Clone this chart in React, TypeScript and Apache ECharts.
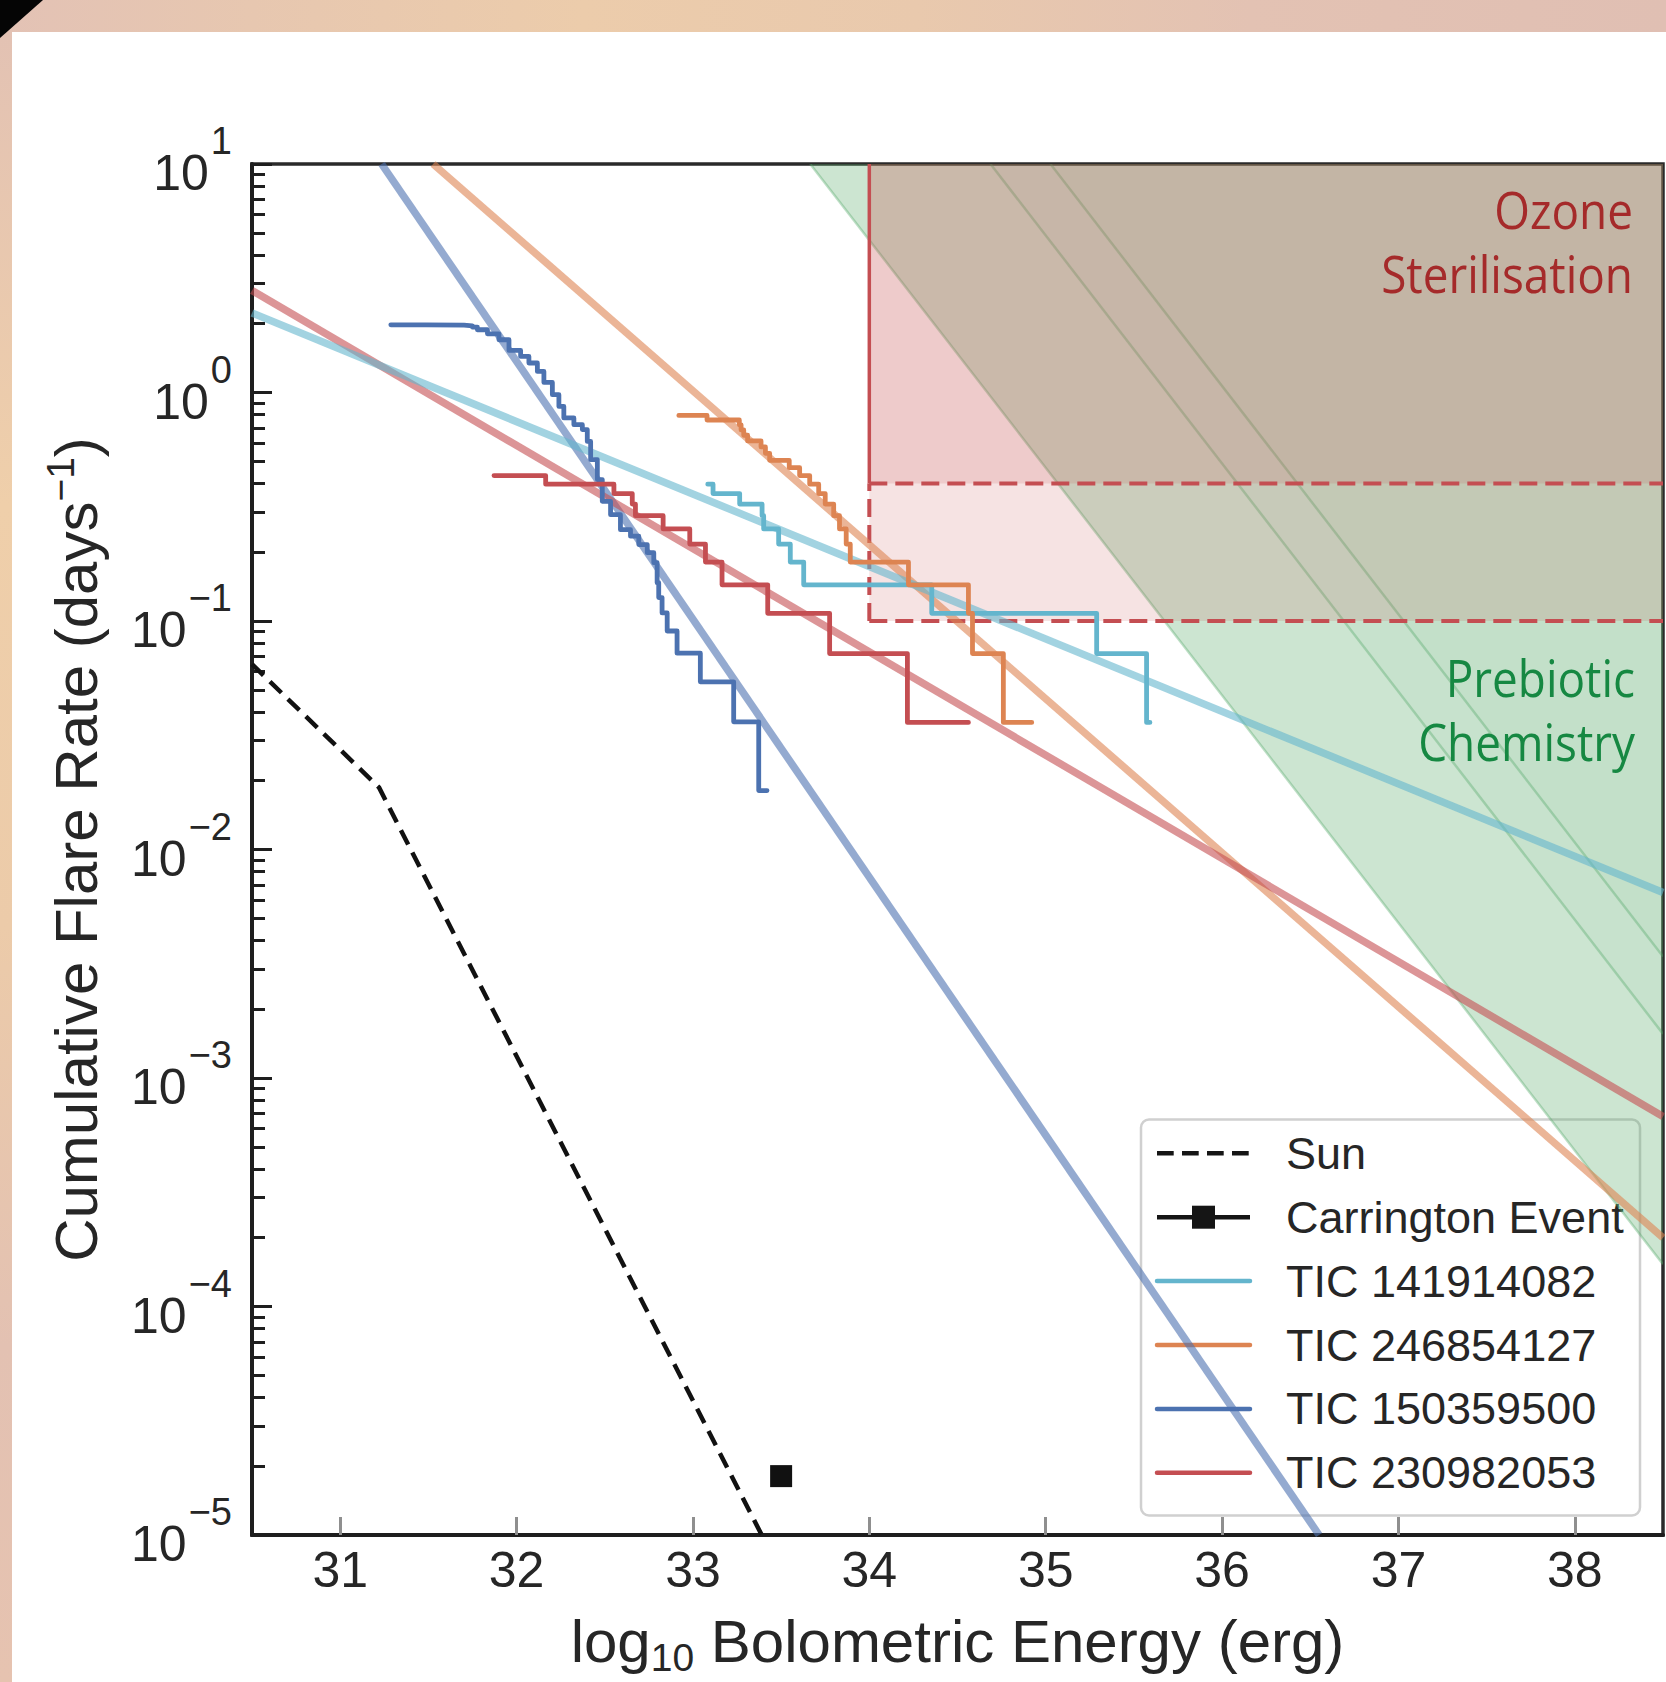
import React, { useEffect, useRef } from 'react';
import * as echarts from 'echarts';

// ---------- axis ticks ----------
const X_TICKS = [31, 32, 33, 34, 35, 36, 37, 38];
const Y_TICKS = [1e-5, 1e-4, 1e-3, 1e-2, 1e-1, 1, 10];
const Y_MINOR_MULT = [2, 3, 4, 5, 6, 7, 8, 9];
const Y_DECADES = [-5, -4, -3, -2, -1, 0];

// ---------- Sun & Carrington ----------
const SUN_E = [30.5, 31.22, 33.39];
const SUN_RATE = [0.0647, 0.0187, 0.00001];
const CARRINGTON_E = [33.5];
const CARRINGTON_RATE = [1.81e-5];

// ---------- cumulative flare frequency (step) data ----------
const TIC141914082_E = [33.084, 33.114, 33.265, 33.392, 33.401, 33.486, 33.552, 33.628, 34.354, 35.289, 35.572, 35.591];
const TIC141914082_RATE = [0.397, 0.361, 0.325, 0.289, 0.253, 0.217, 0.181, 0.144, 0.108, 0.072, 0.036, 0.036];

const TIC246854127_E = [32.92, 33.08, 33.263, 33.273, 33.288, 33.31, 33.386, 33.411, 33.435, 33.546, 33.605, 33.662, 33.713, 33.75, 33.798, 33.831, 33.869, 33.892, 34.222, 34.562, 34.585, 34.76, 34.921];
const TIC246854127_RATE = [0.794, 0.758, 0.722, 0.686, 0.65, 0.614, 0.578, 0.542, 0.505, 0.469, 0.433, 0.397, 0.361, 0.325, 0.289, 0.253, 0.217, 0.181, 0.144, 0.108, 0.072, 0.036, 0.036];

const TIC150359500_E = [31.287, 31.485, 31.702, 31.75, 31.778, 31.835, 31.9, 31.957, 32.023, 32.07, 32.118, 32.155, 32.203, 32.24, 32.268, 32.325, 32.373, 32.401, 32.42, 32.458, 32.486, 32.533, 32.589, 32.646, 32.693, 32.741, 32.778, 32.797, 32.806, 32.825, 32.854, 32.91, 33.042, 33.231, 33.373, 33.42];
const TIC150359500_RATE = [1.978, 1.97, 1.959, 1.932, 1.882, 1.807, 1.702, 1.528, 1.438, 1.346, 1.237, 1.107, 0.978, 0.869, 0.774, 0.723, 0.688, 0.611, 0.508, 0.416, 0.334, 0.292, 0.251, 0.235, 0.216, 0.199, 0.18, 0.147, 0.1266, 0.1085, 0.0904, 0.0723, 0.0542, 0.0362, 0.0181, 0.0181];

const TIC230982053_E = [31.872, 32.165, 32.552, 32.656, 32.674, 32.831, 32.982, 33.071, 33.165, 33.424, 33.775, 34.216, 34.562];
const TIC230982053_RATE = [0.433, 0.397, 0.361, 0.325, 0.289, 0.253, 0.217, 0.181, 0.144, 0.108, 0.072, 0.036, 0.036];

// ---------- power-law fits (end points) ----------
const FIT141914082_E = [30.5, 38.5];
const FIT141914082_RATE = [2.23, 0.00648];
const FIT246854127_E = [31.527, 38.5];
const FIT246854127_RATE = [10, 0.0002];
const FIT150359500_E = [31.235, 36.55];
const FIT150359500_RATE = [10, 0.00001];
const FIT230982053_E = [30.5, 38.5];
const FIT230982053_RATE = [2.795, 0.000678];

// ---------- habitability zones ----------
const X_RANGE = [30.5, 38.5];
const Y_RANGE = [1e-5, 10];
const OZONE_E = 34;
const OZONE_RATES = [0.1, 0.4];
// prebiotic chemistry boundary lines: energy where each meets the top, rate where it meets the right edge
const PREBIOTIC_TOP_E = [33.665, 34.687, 35.027];
const PREBIOTIC_RIGHT_RATE = [1.53e-4, 1.56e-3, 3.4e-3];

const LEGEND_LABELS = ['Sun', 'Carrington Event', 'TIC 141914082', 'TIC 246854127', 'TIC 150359500', 'TIC 230982053'];

const C_CYAN = '#64B5CD';
const C_ORANGE = '#DD8452';
const C_BLUE = '#4C72B0';
const C_RED = '#C44E52';
const FONT = '"Liberation Sans", Arial, Helvetica, sans-serif';
const TXT = '#262626';

const zip = (a: number[], b: number[]) => a.map((v, i) => [v, b[i]]);

function buildOption() {
  const [xMin, xMax] = X_RANGE;
  const [yMin, yMax] = Y_RANGE;
  const minorTicks: number[] = [];
  Y_DECADES.forEach((d) => Y_MINOR_MULT.forEach((m) => minorTicks.push(m * Math.pow(10, d))));

  type Region = { pts: number[][]; fill: string; edge?: number[][]; stroke?: string };
  const regions: Region[] = [];
  PREBIOTIC_TOP_E.forEach((e, i) => {
    regions.push({
      pts: [[e, yMax], [xMax, yMax], [xMax, PREBIOTIC_RIGHT_RATE[i]]],
      fill: i === 0 ? 'rgba(85,168,104,0.30)' : 'rgba(85,168,104,0.035)',
      edge: [[e, yMax], [xMax, PREBIOTIC_RIGHT_RATE[i]]],
      stroke: 'rgba(85,168,104,0.38)',
    });
  });
  OZONE_RATES.forEach((r) => {
    regions.push({
      pts: [[OZONE_E, r], [xMax, r], [xMax, yMax], [OZONE_E, yMax]],
      fill: 'rgba(196,78,82,0.16)',
    });
  });

  const lineSeries = (data: number[][], color: string, width: number, extra: any = {}) => ({
    type: 'line',
    data,
    symbol: 'none',
    silent: true,
    animation: false,
    lineStyle: { color, width, cap: 'round', join: 'round', ...(extra.lineStyle || {}) },
    ...(extra.step ? { step: extra.step } : {}),
    z: extra.z ?? 3,
  });

  const fitOpacity = 0.6;
  const series: any[] = [
    {
      type: 'custom',
      coordinateSystem: 'cartesian2d',
      silent: true,
      clip: true,
      z: 1,
      data: regions.map((_, i) => [OZONE_E, 1, i]),
      encode: { x: 0, y: 1 },
      renderItem: (_params: any, api: any) => {
        const r = regions[api.value(2)];
        const children: any[] = [
          { type: 'polygon', shape: { points: r.pts.map((p) => api.coord(p)) }, style: { fill: r.fill, stroke: 'none' } },
        ];
        if (r.edge) {
          children.push({
            type: 'polyline',
            shape: { points: r.edge.map((p) => api.coord(p)) },
            style: { stroke: r.stroke, lineWidth: 2.5, fill: 'none' },
          });
        }
        return { type: 'group', children };
      },
    },
    // ozone box outline
    lineSeries([[OZONE_E, OZONE_RATES[1]], [OZONE_E, yMax]], C_RED, 3.5, { z: 2, lineStyle: { cap: 'butt' } }),
    lineSeries([[OZONE_E, OZONE_RATES[0]], [OZONE_E, OZONE_RATES[1]]], C_RED, 4, { z: 2, lineStyle: { type: [18, 8], cap: 'butt' } }),
    lineSeries([[OZONE_E, OZONE_RATES[1]], [xMax, OZONE_RATES[1]]], C_RED, 4, { z: 2, lineStyle: { type: [18, 8], cap: 'butt' } }),
    lineSeries([[OZONE_E, OZONE_RATES[0]], [xMax, OZONE_RATES[0]]], C_RED, 4, { z: 2, lineStyle: { type: [18, 8], cap: 'butt' } }),
    // fits
    lineSeries(zip(FIT150359500_E, FIT150359500_RATE), C_BLUE, 7.5, { lineStyle: { opacity: fitOpacity, cap: 'butt' } }),
    lineSeries(zip(FIT246854127_E, FIT246854127_RATE), C_ORANGE, 7.5, { lineStyle: { opacity: fitOpacity, cap: 'butt' } }),
    lineSeries(zip(FIT230982053_E, FIT230982053_RATE), C_RED, 7.5, { lineStyle: { opacity: fitOpacity, cap: 'butt' } }),
    lineSeries(zip(FIT141914082_E, FIT141914082_RATE), C_CYAN, 7.5, { lineStyle: { opacity: fitOpacity, cap: 'butt' } }),
    // sun
    lineSeries(zip(SUN_E, SUN_RATE), '#111111', 4.5, { z: 4, lineStyle: { type: [16, 9], cap: 'butt' } }),
    // steps
    lineSeries(zip(TIC141914082_E, TIC141914082_RATE), C_CYAN, 4.8, { step: 'end', z: 5 }),
    lineSeries(zip(TIC246854127_E, TIC246854127_RATE), C_ORANGE, 4.8, { step: 'end', z: 5 }),
    lineSeries(zip(TIC150359500_E, TIC150359500_RATE), C_BLUE, 4.8, { step: 'end', z: 5 }),
    lineSeries(zip(TIC230982053_E, TIC230982053_RATE), C_RED, 4.8, { step: 'end', z: 5 }),
    {
      type: 'scatter',
      data: zip(CARRINGTON_E, CARRINGTON_RATE),
      symbol: 'rect',
      symbolSize: 22,
      itemStyle: { color: '#111111', opacity: 1 },
      silent: true,
      z: 6,
    },
  ];

  // legend built as graphic
  const legendColors = ['#151515', '#151515', C_CYAN, C_ORANGE, C_BLUE, C_RED];
  const legendChildren: any[] = [
    {
      type: 'rect',
      shape: { x: 0, y: 0, width: 499, height: 396, r: 8 },
      style: { fill: 'rgba(255,255,255,0.82)', stroke: '#d0d0d0', lineWidth: 2.5 },
    },
  ];
  LEGEND_LABELS.forEach((label, i) => {
    const cy = 33.8 + 63.9 * i;
    legendChildren.push({
      type: 'line',
      shape: { x1: 16, y1: cy, x2: 109, y2: cy },
      style: {
        stroke: legendColors[i],
        lineWidth: 4.5,
        lineDash: i === 0 ? [16.7, 8.3] : null,
        lineCap: i >= 2 ? 'round' : 'butt',
      },
    });
    if (i === 1) {
      legendChildren.push({
        type: 'rect',
        shape: { x: 62.5 - 11.5, y: cy - 11.5, width: 23, height: 23 },
        style: { fill: '#151515' },
      });
    }
    legendChildren.push({
      type: 'text',
      style: {
        text: label,
        x: 145,
        y: cy,
        fill: TXT,
        fontSize: 45,
        fontFamily: FONT,
        align: 'left',
        verticalAlign: 'middle',
      },
    });
  });

  const annot = (text: string, x: number, y: number, color: string) => ({
    type: 'text',
    x,
    y,
    scaleX: 0.9,
    z: 50,
    silent: true,
    style: {
      text,
      x: 0,
      y: 0,
      fill: color,
      fontSize: 51,
      fontFamily: '"Open Sans", "Noto Sans", sans-serif',
      align: 'right',
      verticalAlign: 'middle',
    },
  });

  const graphic: any[] = [
    {
      type: 'rect',
      z: 0,
      silent: true,
      shape: { x: 0, y: 0, width: 1666, height: 32 },
      style: {
        fill: {
          type: 'linear', x: 0, y: 0, x2: 1, y2: 0,
          colorStops: [
            { offset: 0, color: '#e3c2b5' },
            { offset: 0.15, color: '#e7c7b0' },
            { offset: 0.35, color: '#ecccab' },
            { offset: 0.55, color: '#e9c9ad' },
            { offset: 0.75, color: '#e3c2b3' },
            { offset: 1, color: '#e0bfb3' },
          ],
        },
      },
    },
    {
      type: 'rect',
      z: 0,
      silent: true,
      shape: { x: 0, y: 0, width: 12, height: 1682 },
      style: {
        fill: {
          type: 'linear', x: 0, y: 0, x2: 0, y2: 1,
          colorStops: [
            { offset: 0, color: '#e2c1b4' },
            { offset: 0.3, color: '#efcfaa' },
            { offset: 0.55, color: '#eccba9' },
            { offset: 0.8, color: '#e3c1b2' },
            { offset: 1, color: '#e6c3b0' },
          ],
        },
      },
    },
    { type: 'polygon', z: 1, silent: true, shape: { points: [[0, 0], [43, 0], [0, 38]] }, style: { fill: '#050505' } },
    annot('Ozone', 1633, 209, '#a52a2a'),
    annot('Sterilisation', 1633, 273, '#a52a2a'),
    annot('Prebiotic', 1635, 677, '#168842'),
    annot('Chemistry', 1635, 741, '#168842'),
    { type: 'group', x: 1141, y: 1119.5, z: 100, silent: true, children: legendChildren },
  ];

  return {
    animation: false,
    backgroundColor: '#ffffff',
    grid: {
      left: 252,
      right: 3,
      top: 164,
      bottom: 145,
      show: true,
      borderColor: '#2a2a2a',
      borderWidth: 3.5,
      backgroundColor: 'transparent',
    },
    xAxis: {
      type: 'value',
      min: xMin,
      max: xMax,
      name: '{a|log}{s|10}{a| Bolometric Energy (erg)}',
      nameLocation: 'middle',
      nameGap: 70,
      nameTextStyle: {
        color: TXT,
        fontFamily: FONT,
        fontSize: 60,
        rich: {
          a: { fontSize: 60, fontFamily: FONT, color: TXT },
          s: { fontSize: 39, fontFamily: FONT, color: TXT, padding: [33, 0, 0, 0] },
        },
      },
      axisLine: { show: true, onZero: false, lineStyle: { color: '#1e1e1e', width: 4 } },
      axisTick: { show: true, inside: true, length: 18, customValues: X_TICKS, lineStyle: { color: '#8f8f8f', width: 3 } },
      axisLabel: {
        customValues: X_TICKS,
        color: TXT,
        fontSize: 50,
        fontFamily: FONT,
        margin: 10,
        formatter: (v: number) => String(v),
      },
      splitLine: { show: false },
    },
    yAxis: [
      {
        type: 'log',
        logBase: 10,
        min: yMin,
        max: yMax,
        name: '{a|Cumulative Flare Rate (days}{s|\u22121}{a|)}',
        nameLocation: 'middle',
        nameGap: 140,
        nameRotate: 90,
        nameTextStyle: {
          color: TXT,
          fontFamily: FONT,
          fontSize: 60,
          rich: {
            a: { fontSize: 60, fontFamily: FONT, color: TXT },
            s: { fontSize: 39, fontFamily: FONT, color: TXT, padding: [0, 0, 32, 0] },
          },
        },
        axisLine: { show: true, onZero: false, lineStyle: { color: '#1e1e1e', width: 4 } },
        axisTick: { show: true, inside: true, length: 20, customValues: Y_TICKS, lineStyle: { color: '#1e1e1e', width: 3 } },
        axisLabel: {
          customValues: Y_TICKS,
          margin: 20,
          color: TXT,
          fontFamily: FONT,
          fontSize: 50,
          formatter: (v: number) => {
            const e = Math.round(Math.log10(v));
            return `{b|10}{s|${e < 0 ? '\u2212' + -e : e}}`;
          },
          rich: {
            b: { fontSize: 50, fontFamily: FONT, color: TXT, padding: [18, 0, 0, 0] },
            s: { fontSize: 38, fontFamily: FONT, color: TXT, padding: [0, 0, 46, 2] },
          },
        },
        splitLine: { show: false },
      },
      {
        type: 'log',
        logBase: 10,
        min: yMin,
        max: yMax,
        position: 'left',
        axisLine: { show: false },
        axisTick: { show: true, inside: true, length: 13, customValues: minorTicks, lineStyle: { color: '#1e1e1e', width: 3 } },
        axisLabel: { show: false },
        splitLine: { show: false },
      },
    ],
    series,
    graphic,
  };
}

export default function App() {
  const ref = useRef<HTMLDivElement>(null);
  useEffect(() => {
    if (!ref.current) return;
    const chart = echarts.init(ref.current, null, { renderer: 'svg' });
    chart.setOption(buildOption() as any);
    return () => chart.dispose();
  }, []);
  return (
    <div
      ref={ref}
      style={{ position: 'absolute', left: 0, top: 0, width: 1666, height: 1682, background: '#fff' }}
    />
  );
}
